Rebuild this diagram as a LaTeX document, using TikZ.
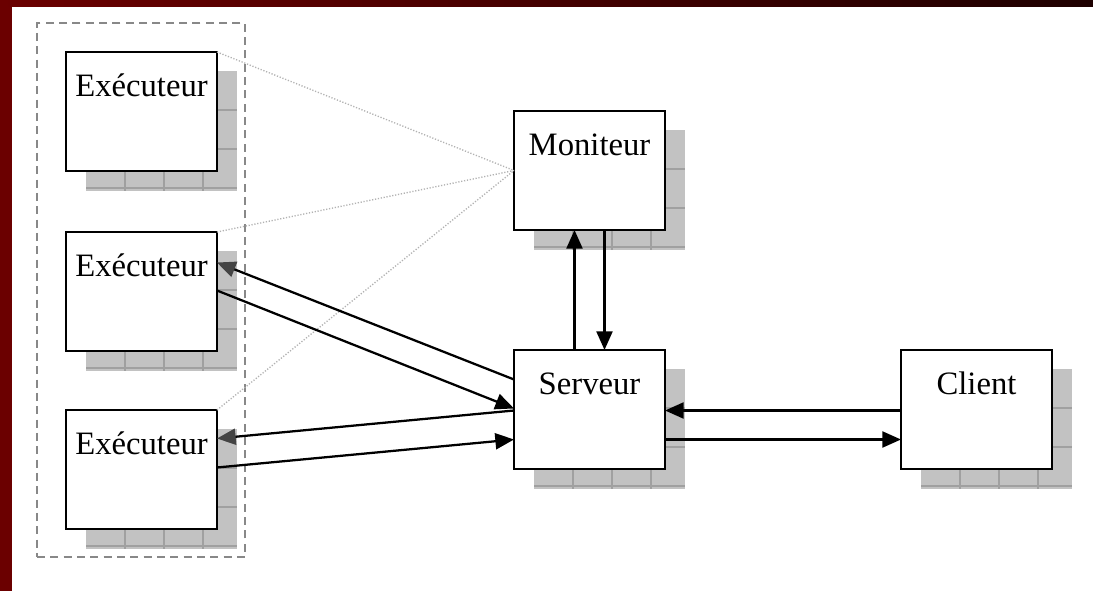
\documentclass[tikz,border=0pt]{standalone}
\usepackage{fontspec}
\setmainfont{Liberation Serif}
\usetikzlibrary{arrows.meta,calc}
\definecolor{framered}{HTML}{6B0000}
\definecolor{framedark}{HTML}{1E0000}
\definecolor{shadowgray}{HTML}{C2C2C2}
\definecolor{gridgray}{HTML}{A0A0A0}
\definecolor{groupgray}{HTML}{888888}
\definecolor{tipgray}{HTML}{444444}
\tikzset{
  unitbox/.style={draw=black, line width=1.7pt, fill=white, inner sep=0pt, outer sep=0pt,
    minimum width=113.25pt, minimum height=89.25pt, anchor=north west},
  boxlabel/.style={anchor=base, inner sep=0pt, font=\fontsize{24.5}{29}\selectfont},
  shadowfill/.style={fill=shadowgray},
  gridline/.style={draw=gridgray, line width=0.8pt},
  group/.style={draw=groupgray, line width=1.4pt, dash pattern=on 6pt off 4pt,
    inner sep=0pt, minimum width=156pt, minimum height=400.5pt},
  watch/.style={draw=gray!60, line width=1pt, dash pattern=on 0.9pt off 1.3pt},
  flow/.style={line width=1.7pt, -{Triangle[length=14pt,width=12pt]}},
  flowback/.style={line width=1.7pt, -{Triangle[length=14pt,width=12pt,color=tipgray]}}
}
\begin{document}
\begin{tikzpicture}[x=0.75pt,y=-0.75pt]
  \useasboundingbox (0,0) rectangle (1093,591);
  \fill[white] (0,0) rectangle (1093,591);
  % page frame
  \fill[framered] (0,0) rectangle (12,591);
  \shade[left color=framered, right color=framedark] (0,0) rectangle (1093,7);

  % boxes with their gridded drop shadows
  \foreach \n/\x/\y/\t in {e1/66/52/Exécuteur, e2/66/232/Exécuteur, e3/66/410/Exécuteur,
                           mon/514/111/Moniteur, srv/514/350/Serveur, cli/901/350/Client} {
    \fill[shadowfill] (\x+20,\y+19) rectangle (\x+171,\y+139);
    \foreach \k in {39,78,117} {
      \draw[gridline] (\x+20+\k,\y+19) -- (\x+20+\k,\y+139);
      \draw[gridline] (\x+20,\y+19+\k) -- (\x+171,\y+19+\k);
    }
    \node[unitbox] (\n) at (\x,\y) {};
    \node[boxlabel] (\n-label) at ($(\n.north)+(0,45)$) {\t};
  }

  % dashed group around the executors
  \node[group] (pool) at (141,290) {};

  % monitoring links
  \draw[watch] (e1.north east) -- (mon.west);
  \draw[watch] (e2.north east) -- (mon.west);
  \draw[watch] (e3.north east) -- (mon.west);

  % executors <-> server
  \draw[flowback] ($(srv.west)+(0,-30)$) -- ($(e2.east)+(0,-29)$);
  \draw[flow] ($(e2.east)+(0,-1)$) -- ($(srv.west)+(0,-1)$);
  \draw[flowback] ($(srv.west)+(0,1)$) -- ($(e3.east)+(0,-31)$);
  \draw[flow] ($(e3.east)+(0,-2)$) -- ($(srv.west)+(0,30)$);

  % server <-> monitor
  \draw[flow] ($(srv.north)+(-15,0)$) -- ($(mon.south)+(-15,0)$);
  \draw[flow] ($(mon.south)+(15,0)$) -- ($(srv.north)+(15,0)$);

  % server <-> client
  \draw[flow] ($(cli.west)+(0,1)$) -- ($(srv.east)+(0,1)$);
  \draw[flow] ($(srv.east)+(0,30)$) -- ($(cli.west)+(0,30)$);
\end{tikzpicture}
\end{document}
